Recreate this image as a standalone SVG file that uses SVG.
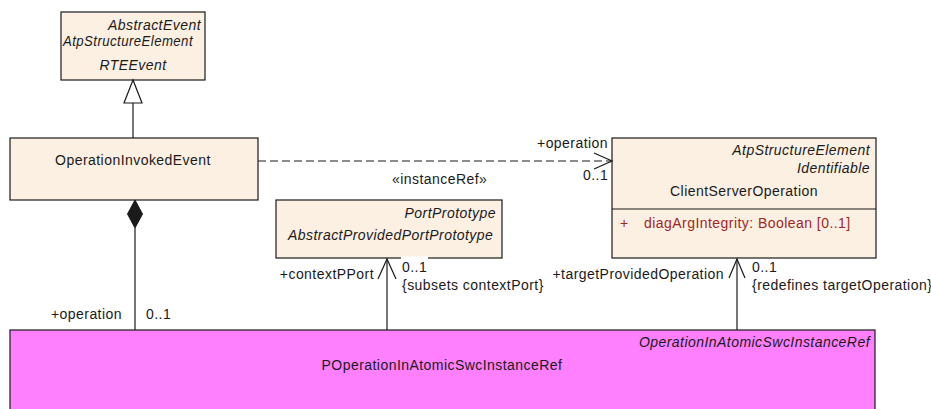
<svg xmlns="http://www.w3.org/2000/svg" width="931" height="409" viewBox="0 0 931 409">
<style>
text{font-family:"Liberation Sans",Arial,sans-serif;font-size:14px;letter-spacing:0.45px;fill:#1a1a1a}
.it{font-style:italic}
.mid{text-anchor:middle}
.end{text-anchor:end}
.box{fill:#FBF0E2;stroke:#1a1a1a;stroke-width:1.2}
.pink{fill:#FF80FF;stroke:#1a1a1a;stroke-width:1.2}
.ln{fill:none;stroke:#1a1a1a;stroke-width:1.2}
.attr{fill:#A3261E}
</style>
<rect width="931" height="409" fill="#fff"/>
<g id="RTEEvent">
<rect class="box" x="61" y="12" width="144" height="68"/>
<text class="it end" x="201" y="30">AbstractEvent</text>
<text class="it" x="63" y="46" textLength="130" lengthAdjust="spacingAndGlyphs">AtpStructureElement</text>
<text class="it mid" x="133" y="70">RTEEvent</text>
</g>
<g id="OperationInvokedEvent">
<rect class="box" x="10" y="138" width="248" height="62"/>
<text class="mid" x="133" y="165">OperationInvokedEvent</text>
</g>
<g id="AbstractProvidedPortPrototype">
<rect class="box" x="276" y="200" width="226" height="58"/>
<text class="it end" x="496" y="218">PortPrototype</text>
<text class="it" x="288" y="240">AbstractProvidedPortPrototype</text>
</g>
<g id="ClientServerOperation">
<rect class="box" x="612" y="138" width="264" height="120"/>
<line class="ln" x1="612" y1="209" x2="876" y2="209"/>
<text class="it end" x="870" y="155">AtpStructureElement</text>
<text class="it end" x="870" y="173">Identifiable</text>
<text class="mid" x="744" y="196">ClientServerOperation</text>
<text class="attr" x="620" y="228">+</text>
<text class="attr" x="644" y="228">diagArgIntegrity: Boolean [0..1]</text>
</g>
<g id="POperationInAtomicSwcInstanceRef">
<rect class="pink" x="10" y="330" width="865" height="90"/>
<text class="it end" x="870" y="347">OperationInAtomicSwcInstanceRef</text>
<text class="mid" x="442" y="370">POperationInAtomicSwcInstanceRef</text>
</g>
<g id="connectors">
<line class="ln" x1="133" y1="103" x2="133" y2="138"/>
<polygon points="133,80 124,103 142,103" fill="#fff" stroke="#1a1a1a" stroke-width="1.2"/>
<line class="ln" x1="135" y1="228" x2="135" y2="330"/>
<polygon points="135,200 142.5,214 135,228 127.5,214" fill="#1a1a1a" stroke="#1a1a1a" stroke-width="1"/>
<text class="end" x="122" y="319">+operation</text>
<text x="146" y="319">0..1</text>
<line class="ln" x1="258" y1="161" x2="611" y2="161" stroke-dasharray="8,4"/>
<polyline class="ln" points="594,153 612,161 594,169"/>
<text x="537" y="148">+operation</text>
<text x="583" y="180">0..1</text>
<text x="392" y="184">«instanceRef»</text>
<line class="ln" x1="387" y1="259" x2="387" y2="330"/>
<polyline class="ln" points="378,279 387,259 396,279"/>
<rect x="401" y="256.5" width="27" height="14" fill="#fff"/>
<text class="end" x="374" y="279">+contextPPort</text>
<text x="402" y="272">0..1</text>
<text x="402" y="290">{subsets contextPort}</text>
<line class="ln" x1="737" y1="259" x2="737" y2="330"/>
<polyline class="ln" points="729,278 737,259 745,278"/>
<text class="end" x="724" y="279">+targetProvidedOperation</text>
<text x="752" y="272">0..1</text>
<text x="752" y="290">{redefines targetOperation}</text>
</g>
</svg>
